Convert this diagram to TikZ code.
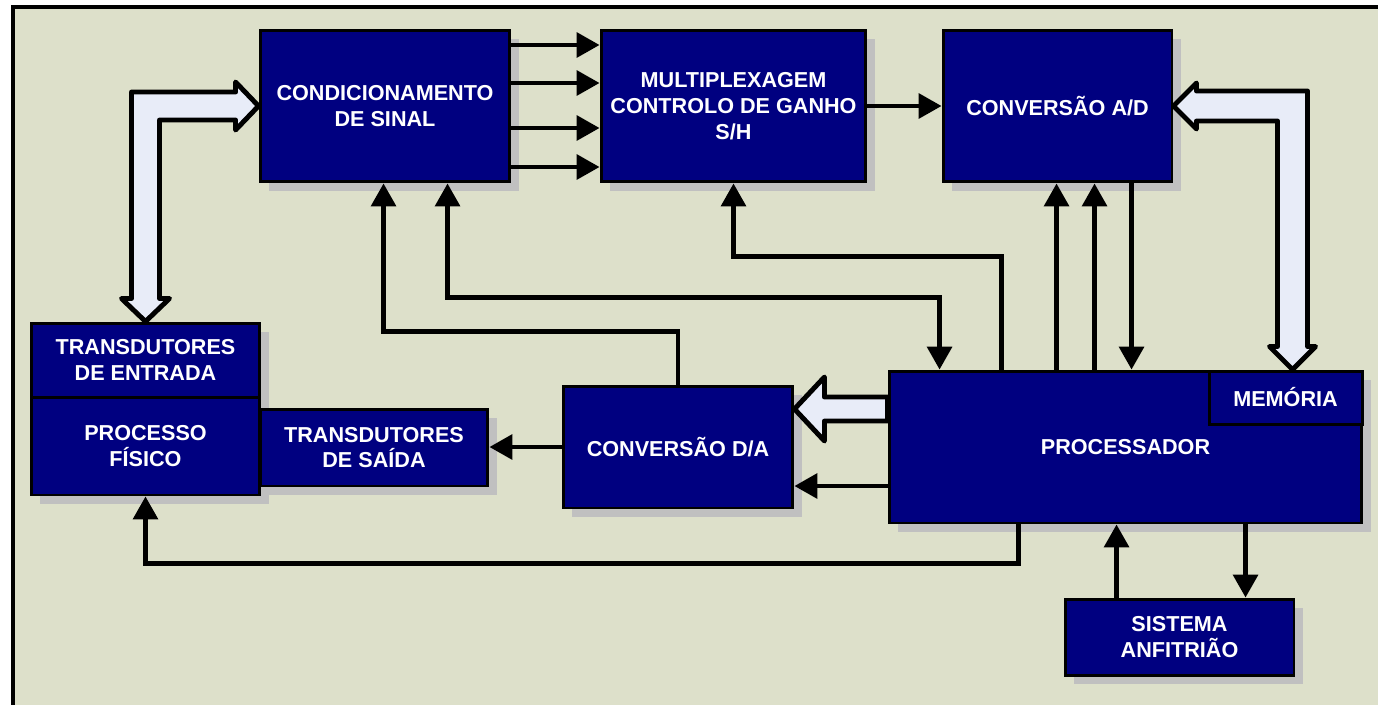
\documentclass[tikz,border=0pt]{standalone}
\usepackage{fontspec}
\setmainfont{Liberation Sans}
\usetikzlibrary{arrows.meta,calc,shadows}

\definecolor{panel}{HTML}{DDE0CA}
\definecolor{navy}{HTML}{000080}
\definecolor{shade}{HTML}{C0C0C0}
\definecolor{busfill}{HTML}{E8ECF8}

\tikzset{
  block/.style 2 args={draw=black, line width=1.7pt, fill=navy, text=white,
    font=\fontsize{12.3}{14.7}\selectfont\bfseries, align=center,
    minimum width=#1, minimum height=#2, inner sep=0pt},
  boxshadow/.style={general shadow={fill=shade, shadow xshift=0.18cm, shadow yshift=-0.18cm}},
  sig/.style={line width=2.4pt, >={Triangle[length=13pt,width=14pt]}},
  bus/.style={draw=black, fill=busfill, line width=2.8pt, line join=round},
}

\begin{document}
\begin{tikzpicture}[x=0.02cm, y=-0.02cm]
\useasboundingbox (0,0) rectangle (1378,704);
\clip (0,0) rectangle (1378,704);
% panel
\fill[panel] (13,7) rectangle (1400,720);
\draw[line width=2pt] (13,7) rectangle (1400,720);

% blocks
\node[block={5cm}{3.04cm}, boxshadow] (cond) at (385,106) {CONDICIONAMENTO\\DE SINAL};
\node[block={5.3cm}{3.04cm}, boxshadow] (mux) at (733.5,106) {MULTIPLEXAGEM\\CONTROLO DE GANHO\\S/H};
\node[block={4.58cm}{3.04cm}, boxshadow] (adc) at (1057.5,106) {CONVERSÃO A/D};
\node[block={4.58cm}{1.48cm}, boxshadow] (tin) at (145.5,360) {TRANSDUTORES\\DE ENTRADA};
\node[block={4.58cm}{1.96cm}, boxshadow] (proc) at (145.5,446) {PROCESSO\\FÍSICO};
\node[block={4.56cm}{1.54cm}, boxshadow] (tout) at (374,447.5) {TRANSDUTORES\\DE SAÍDA};
\node[block={4.6cm}{2.44cm}, boxshadow] (dac) at (678,447) {CONVERSÃO D/A};
\node[block={9.46cm}{3.04cm}, boxshadow] (cpu) at (1125.5,447) {PROCESSADOR};
\node[block={3.06cm}{1.06cm}] (mem) at (1285.5,397.5) {MEMÓRIA};
\node[block={4.58cm}{1.52cm}, boxshadow] (host) at (1179.5,637) {SISTEMA\\ANFITRIÃO};

% buses
\coordinate (b1) at (tin.north |- cond.west);
\draw[bus] ($(tin.north)+(-14,-23)$) -- ($(b1)+(-14,-14)$) -- ($(cond.west)+(-23,-14)$)
  -- ($(cond.west)+(-23,-24)$) -- (cond.west) -- ($(cond.west)+(-23,24)$)
  -- ($(cond.west)+(-23,14)$) -- ($(b1)+(14,14)$) -- ($(tin.north)+(14,-23)$)
  -- ($(tin.north)+(24,-23)$) -- (tin.north) -- ($(tin.north)+(-24,-23)$) -- cycle;

\coordinate (mtop) at ($(mem.north)+(7,0)$);
\coordinate (b2) at (mtop |- adc.east);
\draw[bus] (adc.east) -- ($(adc.east)+(23,-23)$) -- ($(adc.east)+(23,-15)$)
  -- ($(b2)+(15,-15)$) -- ($(mtop)+(15,-23)$) -- ($(mtop)+(23,-23)$) -- (mtop)
  -- ($(mtop)+(-23,-23)$) -- ($(mtop)+(-15,-23)$) -- ($(b2)+(-15,15)$)
  -- ($(adc.east)+(23,15)$) -- ($(adc.east)+(23,23)$) -- cycle;

\coordinate (b3) at ($(cpu.west)+(0,-38)$);
\coordinate (b3t) at (dac.east |- b3);
\draw[bus] (b3t) -- ($(b3t)+(30,-32)$) -- ($(b3t)+(30,-12)$) -- ($(b3)+(0,-12)$)
  -- ($(b3)+(0,12)$) -- ($(b3t)+(30,12)$) -- ($(b3t)+(30,32)$) -- cycle;

% signal lines
\foreach \dy in {-61,-23,22,61}
  \draw[sig,->] ($(cond.east)+(0,\dy)$) -- ($(mux.west)+(0,\dy)$);
\draw[sig,->] (mux) -- (adc);
\draw[sig,->] (dac.west) -- (dac.west -| tout.east);
\draw[sig,->] (dac.north) -- ++(0,-53) -| ($(cond.south west)+(125,0)$);
\draw[sig,<->] ($(cond.south west)+(189,0)$) -- ++(0,114) -| ($(cpu.north west)+(52,0)$);
\draw[sig,->] ($(cpu.north west)+(114,0)$) -- ++(0,-113) -| (mux.south);

\foreach \dx/\nm in {115/ad1,153/ad2}{
  \coordinate (\nm) at ($(adc.south west)+(\dx,0)$);
  \draw[sig,->] (\nm |- cpu.north) -- (\nm);
}
\coordinate (ad3) at ($(adc.south west)+(190,0)$);
\draw[sig,->] (ad3) -- (ad3 |- cpu.north);

\coordinate (c2) at ($(cpu.west)+(0,39)$);
\draw[sig,->] (c2) -- (c2 -| dac.east);
\draw[sig,->] ($(cpu.south west)+(131,0)$) -- ++(0,39) -| (proc.south);

\coordinate (h1) at ($(host.north west)+(53,0)$);
\draw[sig,->] (h1) -- (h1 |- cpu.south);
\coordinate (h2) at ($(host.north west)+(182,0)$);
\draw[sig,->] (h2 |- cpu.south) -- (h2);
\end{tikzpicture}
\end{document}
